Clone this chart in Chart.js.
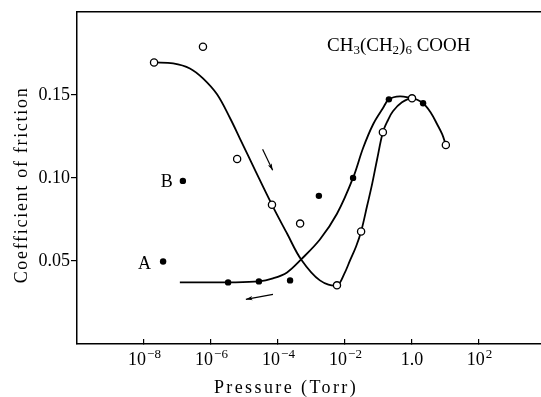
<!DOCTYPE html>
<html>
<head>
<meta charset="utf-8">
<script src="https://cdn.jsdelivr.net/npm/chart.js@4.4.0/dist/chart.umd.min.js"></script>
<style>
  html, body { margin: 0; padding: 0; background: #fff; }
  #wrap { width: 541px; height: 397px; }
</style>
</head>
<body>
<div id="wrap"><canvas id="frictionChart"></canvas></div>
<script>
// x values are log10(pressure / Torr), y is coefficient of friction

// open circles
var openLogP = [-7.70, -6.24, -5.22, -4.18, -3.34, -2.24, -1.52, -0.87, 0.00, 1.01];
var openMu   = [0.1695, 0.179, 0.1114, 0.0838, 0.0725, 0.0353, 0.0677, 0.1275, 0.1479, 0.1198];

// filled circles (first two are the A and B points)
var fillLogP = [-7.43, -6.84, -5.49, -4.57, -3.64, -2.78, -1.76, -0.69, 0.33];
var fillMu   = [0.0497, 0.0982, 0.0371, 0.0377, 0.0383, 0.0892, 0.100, 0.1473, 0.1449];

// hand drawn curve through the open circles (pumping down)
var curve1LogP = [-7.70, -7.13, -6.63, -6.24, -5.82, -5.43, -5.13, -4.66, -4.18, -3.73, -3.31, -2.75, -2.24, -2.03, -1.85, -1.67, -1.52, -1.34, -1.19, -1.04, -0.87, -0.72, -0.57, -0.30, 0.00, 0.33, 0.57, 0.75, 0.90, 1.01];
var curve1Mu   = [0.1695, 0.1689, 0.1659, 0.1599, 0.1503, 0.1359, 0.1234, 0.1036, 0.0838, 0.0665, 0.0509, 0.0383, 0.0353, 0.0419, 0.0503, 0.0587, 0.0677, 0.0832, 0.0964, 0.1114, 0.1275, 0.1347, 0.1401, 0.1455, 0.1479, 0.1449, 0.1389, 0.1323, 0.1263, 0.1198];

// hand drawn curve through the filled circles (letting air back in)
var curve2LogP = [-6.93, -6.18, -5.49, -4.57, -4.15, -3.73, -3.31, -2.75, -2.24, -1.76, -1.46, -1.16, -0.87, -0.69, -0.36, 0.00];
var curve2Mu   = [0.0371, 0.0371, 0.0371, 0.0377, 0.0395, 0.0431, 0.0509, 0.0629, 0.0784, 0.100, 0.118, 0.1323, 0.1419, 0.1473, 0.1491, 0.1479];

// direction arrows: [startLogP, startMu, endLogP, endMu]
var arrowDown = [-4.46, 0.1172, -4.16, 0.1046];
var arrowLeft = [-4.15, 0.0299, -4.96, 0.0269];

// axis ticks
var xTicks = [-8, -6, -4, -2, 0, 2];
var xTickBase = ['10', '10', '10', '10', '1.0', '10'];
var xTickExp  = ['\u22128', '\u22126', '\u22124', '\u22122', '', '2'];
var yTicks = [0.05, 0.10, 0.15];

var serif = '"Liberation Serif", "DejaVu Serif", serif';

function toPoints(xs, ys) {
    return xs.map(function (x, i) { return { x: x, y: ys[i] }; });
}

var extrasPlugin = {
    id: 'extras',
    afterDraw: function (chart) {
        var ctx = chart.ctx;
        var area = chart.chartArea;
        var xs = chart.scales.x;
        var ys = chart.scales.y;

        ctx.save();
        // top frame line
        ctx.strokeStyle = '#000';
        ctx.lineWidth = 1.5;
        ctx.beginPath();
        ctx.moveTo(area.left, area.top);
        ctx.lineTo(area.right, area.top);
        ctx.stroke();

        // x tick labels with superscript exponents
        ctx.fillStyle = '#000';
        ctx.textBaseline = 'alphabetic';
        ctx.textAlign = 'left';
        xTicks.forEach(function (v, i) {
            var px = xs.getPixelForValue(v);
            ctx.font = '18px ' + serif;
            var wb = ctx.measureText(xTickBase[i]).width;
            ctx.font = '13px ' + serif;
            var we = ctx.measureText(xTickExp[i]).width;
            var x0 = px - (wb + we) / 2;
            ctx.font = '18px ' + serif;
            ctx.fillText(xTickBase[i], x0, area.bottom + 21);
            ctx.font = '13px ' + serif;
            ctx.fillText(xTickExp[i], x0 + wb + 1, area.bottom + 14);
        });

        // axis titles
        ctx.font = '18px ' + serif;
        ctx.letterSpacing = '2.4px';
        ctx.textAlign = 'center';
        ctx.fillText('Pressure (Torr)', 286, 393);
        ctx.letterSpacing = '1.7px';
        ctx.translate(27, 185);
        ctx.rotate(-Math.PI / 2);
        ctx.fillText('Coefficient of friction', 0, 0);
        ctx.setTransform(1, 0, 0, 1, 0, 0);
        ctx.letterSpacing = '0px';

        // A / B point labels
        ctx.font = '18px ' + serif;
        ctx.textAlign = 'right';
        ctx.textBaseline = 'middle';
        ctx.fillText('A', xs.getPixelForValue(fillLogP[0]) - 12, ys.getPixelForValue(fillMu[0]) + 3);
        ctx.fillText('B', xs.getPixelForValue(fillLogP[1]) - 10, ys.getPixelForValue(fillMu[1]) + 1);

        // compound name
        ctx.textAlign = 'left';
        ctx.textBaseline = 'alphabetic';
        var parts = [['CH', 0], ['3', 1], ['(CH', 0], ['2', 1], [')', 0], ['6', 1], [' COOH', 0]];
        var cx = area.left + 250;
        var cy = area.top + 39;
        parts.forEach(function (p) {
            ctx.font = (p[1] ? '13px ' : '19px ') + serif;
            ctx.fillText(p[0], cx, cy + (p[1] ? 3 : 0));
            cx += ctx.measureText(p[0]).width;
        });

        // arrows
        [arrowDown, arrowLeft].forEach(function (a) {
            var x1 = xs.getPixelForValue(a[0]), y1 = ys.getPixelForValue(a[1]);
            var x2 = xs.getPixelForValue(a[2]), y2 = ys.getPixelForValue(a[3]);
            var ang = Math.atan2(y2 - y1, x2 - x1);
            ctx.strokeStyle = '#000';
            ctx.fillStyle = '#000';
            ctx.lineWidth = 1.2;
            ctx.beginPath();
            ctx.moveTo(x1, y1);
            ctx.lineTo(x2, y2);
            ctx.stroke();
            ctx.beginPath();
            ctx.moveTo(x2, y2);
            ctx.lineTo(x2 - 7 * Math.cos(ang - 0.3), y2 - 7 * Math.sin(ang - 0.3));
            ctx.lineTo(x2 - 5 * Math.cos(ang), y2 - 5 * Math.sin(ang));
            ctx.lineTo(x2 - 7 * Math.cos(ang + 0.3), y2 - 7 * Math.sin(ang + 0.3));
            ctx.closePath();
            ctx.fill();
        });
        ctx.restore();
    }
};

var ctx = document.getElementById('frictionChart').getContext('2d');
var frictionChart = new Chart(ctx, {
    type: 'scatter',
    data: {
        datasets: [
            {
                label: 'open',
                data: toPoints(openLogP, openMu),
                pointRadius: 3.6,
                pointBackgroundColor: '#fff',
                pointBorderColor: '#000',
                pointBorderWidth: 1.3,
                order: 0
            },
            {
                label: 'filled',
                data: toPoints(fillLogP, fillMu),
                pointRadius: 3.2,
                pointBackgroundColor: '#000',
                pointBorderColor: '#000',
                pointBorderWidth: 0,
                order: 1
            },
            {
                type: 'line',
                label: 'curve 1',
                data: toPoints(curve1LogP, curve1Mu),
                borderColor: '#000',
                borderWidth: 1.8,
                pointRadius: 0,
                tension: 0.35,
                fill: false,
                order: 2
            },
            {
                type: 'line',
                label: 'curve 2',
                data: toPoints(curve2LogP, curve2Mu),
                borderColor: '#000',
                borderWidth: 1.8,
                pointRadius: 0,
                tension: 0.35,
                fill: false,
                order: 3
            }
        ]
    },
    options: {
        responsive: true,
        maintainAspectRatio: false,
        animation: false,
        devicePixelRatio: 1,
        layout: { autoPadding: false, padding: { top: 10, left: 0, right: 0, bottom: 0 } },
        plugins: {
            legend: { display: false },
            tooltip: { enabled: false }
        },
        scales: {
            x: {
                type: 'linear',
                position: 'bottom',
                min: -10,
                max: 3.85,
                border: { display: true, color: '#000', width: 1.5 },
                grid: { drawOnChartArea: false, drawTicks: true, tickLength: -5, color: '#000', lineWidth: 1.2 },
                ticks: { display: false },
                afterBuildTicks: function (scale) {
                    scale.ticks = xTicks.map(function (v) { return { value: v }; });
                },
                afterFit: function (scale) { scale.height = 53; }
            },
            y: {
                min: 0,
                max: 0.2,
                border: { display: true, color: '#000', width: 1.5 },
                grid: { drawOnChartArea: false, drawTicks: true, tickLength: 6, color: '#000', lineWidth: 1.2 },
                ticks: {
                    color: '#000',
                    padding: 1,
                    font: { family: serif, size: 18 },
                    callback: function (v) { return v.toFixed(2); }
                },
                afterBuildTicks: function (scale) {
                    scale.ticks = yTicks.map(function (v) { return { value: v }; });
                },
                afterFit: function (scale) { scale.width = 77; }
            }
        }
    },
    plugins: [extrasPlugin]
});
</script>
</body>
</html>
